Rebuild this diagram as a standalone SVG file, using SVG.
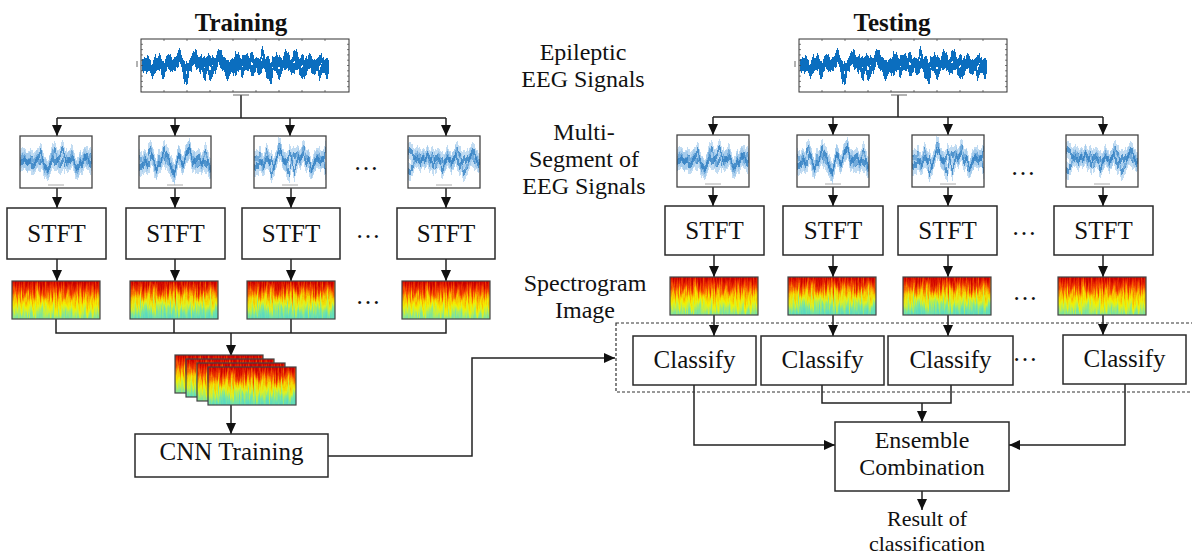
<svg xmlns="http://www.w3.org/2000/svg" xmlns:xlink="http://www.w3.org/1999/xlink" width="1192" height="556" viewBox="0 0 1192 556">
<style>
  text { font-family: "Liberation Serif", "Times New Roman", serif; font-size: 25px; fill: #111; text-anchor: middle; }
  .title { font-weight: bold; }
  .ml { font-size: 24px; }
  .box { fill: #fff; stroke: #2a2a2a; stroke-width: 1.5; }
  .ln { fill: none; stroke: #222; stroke-width: 1.5; }
  .arr { fill: none; stroke: #222; stroke-width: 1.5; marker-end: url(#ah); }
  .dash { fill: none; stroke: #333; stroke-width: 1.2; stroke-dasharray: 3 2; }
</style>
<defs>
  <marker id="ah" viewBox="0 0 10 10" refX="10" refY="5" markerWidth="11" markerHeight="10" markerUnits="userSpaceOnUse" orient="auto" preserveAspectRatio="none">
    <path d="M0 0 L10 5 L0 10 Z" fill="#111"/>
  </marker>
  <linearGradient id="gA" gradientUnits="userSpaceOnUse" x1="0" y1="-15" x2="0" y2="53">
    <stop offset="0" stop-color="#a80000"/>
    <stop offset="0.22" stop-color="#c80000"/>
    <stop offset="0.265" stop-color="#d81000"/>
    <stop offset="0.353" stop-color="#f03800"/>
    <stop offset="0.426" stop-color="#f87800"/>
    <stop offset="0.50" stop-color="#f8c400"/>
    <stop offset="0.574" stop-color="#f2f000"/>
    <stop offset="0.647" stop-color="#d2f030"/>
    <stop offset="0.72" stop-color="#a0ea70"/>
    <stop offset="0.78" stop-color="#80e498"/>
    <stop offset="1" stop-color="#60d8c0"/>
  </linearGradient>
  <linearGradient id="gB" gradientUnits="userSpaceOnUse" x1="0" y1="-15" x2="0" y2="53">
    <stop offset="0" stop-color="#a80000"/>
    <stop offset="0.22" stop-color="#cc0000"/>
    <stop offset="0.265" stop-color="#dc1800"/>
    <stop offset="0.35" stop-color="#f04800"/>
    <stop offset="0.42" stop-color="#f89000"/>
    <stop offset="0.49" stop-color="#f4d800"/>
    <stop offset="0.56" stop-color="#e0f020"/>
    <stop offset="0.63" stop-color="#a8ec60"/>
    <stop offset="0.70" stop-color="#78e4a0"/>
    <stop offset="0.78" stop-color="#60dcbc"/>
    <stop offset="1" stop-color="#50d0c8"/>
  </linearGradient>
  <filter id="fp1" filterUnits="userSpaceOnUse" x="0" y="0" width="88" height="38" color-interpolation-filters="sRGB">
    <feTurbulence type="fractalNoise" baseFrequency="0.6 0.05" numOctaves="3" seed="4" result="n"/>
    <feColorMatrix in="n" type="matrix" values="0 0 0 0 0.5  0 1 0 0 0  0 0 0 0 0  0 0 0 0 1" result="m"/>
    <feDisplacementMap in="SourceGraphic" in2="m" scale="26" xChannelSelector="R" yChannelSelector="G"/>
  </filter>
  <filter id="fp2" filterUnits="userSpaceOnUse" x="0" y="0" width="88" height="38" color-interpolation-filters="sRGB">
    <feTurbulence type="fractalNoise" baseFrequency="0.6 0.05" numOctaves="3" seed="9" result="n"/>
    <feColorMatrix in="n" type="matrix" values="0 0 0 0 0.5  0 1 0 0 0  0 0 0 0 0  0 0 0 0 1" result="m"/>
    <feDisplacementMap in="SourceGraphic" in2="m" scale="26" xChannelSelector="R" yChannelSelector="G"/>
  </filter>
  <filter id="fe" filterUnits="userSpaceOnUse" x="0" y="1" width="208" height="51" color-interpolation-filters="sRGB">
    <feTurbulence type="fractalNoise" baseFrequency="0.12 0.002" numOctaves="4" seed="21" result="n"/>
    <feColorMatrix in="n" type="matrix" values="0 0 0 0 0.5  0 1 0 0 0  0 0 1 0 0  0 0 0 0 1" result="m"/>
    <feDisplacementMap in="SourceGraphic" in2="m" scale="50" xChannelSelector="R" yChannelSelector="G" result="a"/>
    <feDisplacementMap in="SourceGraphic" in2="m" scale="42" xChannelSelector="R" yChannelSelector="B" result="b"/>
    <feMerge><feMergeNode in="a"/><feMergeNode in="b"/></feMerge>
  </filter>
  <filter id="fs1" filterUnits="userSpaceOnUse" x="0" y="0" width="72" height="52" color-interpolation-filters="sRGB">
    <feTurbulence type="fractalNoise" baseFrequency="0.13 0.002" numOctaves="4" seed="31" result="n"/>
    <feColorMatrix in="n" type="matrix" values="0 0 0 0 0.5  0 1 0 0 0  0 0 1 0 0  0 0 0 0 1" result="m"/>
    <feDisplacementMap in="SourceGraphic" in2="m" scale="50" xChannelSelector="R" yChannelSelector="G" result="a"/>
    <feDisplacementMap in="SourceGraphic" in2="m" scale="44" xChannelSelector="R" yChannelSelector="B" result="b"/>
    <feMerge><feMergeNode in="a"/><feMergeNode in="b"/></feMerge>
  </filter>
  <filter id="fs2" filterUnits="userSpaceOnUse" x="0" y="0" width="72" height="52" color-interpolation-filters="sRGB">
    <feTurbulence type="fractalNoise" baseFrequency="0.13 0.002" numOctaves="4" seed="47" result="n"/>
    <feColorMatrix in="n" type="matrix" values="0 0 0 0 0.5  0 1 0 0 0  0 0 1 0 0  0 0 0 0 1" result="m"/>
    <feDisplacementMap in="SourceGraphic" in2="m" scale="50" xChannelSelector="R" yChannelSelector="G" result="a"/>
    <feDisplacementMap in="SourceGraphic" in2="m" scale="44" xChannelSelector="R" yChannelSelector="B" result="b"/>
    <feMerge><feMergeNode in="a"/><feMergeNode in="b"/></feMerge>
  </filter>
  <filter id="fs3" filterUnits="userSpaceOnUse" x="0" y="0" width="72" height="52" color-interpolation-filters="sRGB">
    <feTurbulence type="fractalNoise" baseFrequency="0.13 0.002" numOctaves="4" seed="63" result="n"/>
    <feColorMatrix in="n" type="matrix" values="0 0 0 0 0.5  0 1 0 0 0  0 0 1 0 0  0 0 0 0 1" result="m"/>
    <feDisplacementMap in="SourceGraphic" in2="m" scale="54" xChannelSelector="R" yChannelSelector="G" result="a"/>
    <feDisplacementMap in="SourceGraphic" in2="m" scale="46" xChannelSelector="R" yChannelSelector="B" result="b"/>
    <feMerge><feMergeNode in="a"/><feMergeNode in="b"/></feMerge>
  </filter>
  <filter id="fs4" filterUnits="userSpaceOnUse" x="0" y="0" width="72" height="52" color-interpolation-filters="sRGB">
    <feTurbulence type="fractalNoise" baseFrequency="0.13 0.002" numOctaves="4" seed="77" result="n"/>
    <feColorMatrix in="n" type="matrix" values="0 0 0 0 0.5  0 1 0 0 0  0 0 1 0 0  0 0 0 0 1" result="m"/>
    <feDisplacementMap in="SourceGraphic" in2="m" scale="50" xChannelSelector="R" yChannelSelector="G" result="a"/>
    <feDisplacementMap in="SourceGraphic" in2="m" scale="44" xChannelSelector="R" yChannelSelector="B" result="b"/>
    <feMerge><feMergeNode in="a"/><feMergeNode in="b"/></feMerge>
  </filter>

  <g id="eeg">
    <rect x="0" y="0" width="208" height="53" fill="#fff"/>
    <g filter="url(#fe)">
      <rect x="1" y="20" width="187" height="11" fill="#0b6ebf"/>
    </g>
    <rect x="0" y="0" width="208" height="53" fill="none" stroke="#333" stroke-width="1"/>
    <path d="M23 0v2M46 0v2M69 0v2M92 0v2M115 0v2M138 0v2M161 0v2M184 0v2M23 53v-2M46 53v-2M69 53v-2M92 53v-2M115 53v-2M138 53v-2M161 53v-2M184 53v-2M0 5.3h2M0 10.6h2M0 15.9h2M0 21.2h2M0 26.5h2M0 31.8h2M0 37.1h2M0 42.4h2M0 47.7h2M208 5.3h-2M208 10.6h-2M208 15.9h-2M208 21.2h-2M208 26.5h-2M208 31.8h-2M208 37.1h-2M208 42.4h-2M208 47.7h-2" stroke="#444" stroke-width="0.7" fill="none"/>
    <path d="M92 56h16M-4 22v6" stroke="#666" stroke-width="1" fill="none"/>
  </g>

  <g id="seg1">
    <rect width="72" height="52" fill="#fff"/>
    <g filter="url(#fs1)">
      <rect x="0" y="15" width="72" height="18" fill="#8fc0e8" fill-opacity="0.55"/>
      <rect x="0" y="21" width="72" height="6" fill="#2b7cc0" fill-opacity="0.75"/>
    </g>
    <rect width="72" height="52" fill="none" stroke="#444" stroke-width="1.3"/>
    <line x1="28" y1="49" x2="44" y2="49" stroke="#aaa" stroke-width="1"/>
  </g>
  <g id="seg2">
    <rect width="72" height="52" fill="#fff"/>
    <g filter="url(#fs2)">
      <rect x="0" y="15" width="72" height="18" fill="#8fc0e8" fill-opacity="0.55"/>
      <rect x="0" y="21" width="72" height="6" fill="#2b7cc0" fill-opacity="0.75"/>
    </g>
    <rect width="72" height="52" fill="none" stroke="#444" stroke-width="1.3"/>
    <line x1="28" y1="49" x2="44" y2="49" stroke="#aaa" stroke-width="1"/>
  </g>
  <g id="seg3">
    <rect width="72" height="52" fill="#fff"/>
    <g filter="url(#fs3)">
      <rect x="0" y="15" width="72" height="18" fill="#8fc0e8" fill-opacity="0.55"/>
      <rect x="0" y="21" width="72" height="6" fill="#2b7cc0" fill-opacity="0.75"/>
    </g>
    <rect width="72" height="52" fill="none" stroke="#444" stroke-width="1.3"/>
    <line x1="28" y1="49" x2="44" y2="49" stroke="#aaa" stroke-width="1"/>
  </g>
  <g id="seg4">
    <rect width="72" height="52" fill="#fff"/>
    <g filter="url(#fs4)">
      <rect x="0" y="15" width="72" height="18" fill="#8fc0e8" fill-opacity="0.55"/>
      <rect x="0" y="21" width="72" height="6" fill="#2b7cc0" fill-opacity="0.75"/>
    </g>
    <rect width="72" height="52" fill="none" stroke="#444" stroke-width="1.3"/>
    <line x1="28" y1="49" x2="44" y2="49" stroke="#aaa" stroke-width="1"/>
  </g>

  <g id="spA">
    <g filter="url(#fp1)"><rect x="-2" y="-15" width="92" height="68" fill="url(#gA)"/></g>
    <rect width="88" height="38" fill="none" stroke="#444" stroke-width="1.2"/>
  </g>
  <g id="spB">
    <g filter="url(#fp2)"><rect x="-2" y="-15" width="92" height="68" fill="url(#gB)"/></g>
    <rect width="88" height="38" fill="none" stroke="#444" stroke-width="1.2"/>
  </g>
</defs>

<rect width="1192" height="556" fill="#fff"/>

<!-- Connectors -->
<g id="connectors">
  <!-- training -->
  <path class="ln" d="M241 95V118M57 118H446"/>
  <path class="arr" d="M57 118V136"/>
  <path class="arr" d="M175 118V136"/>
  <path class="arr" d="M290 118V136"/>
  <path class="arr" d="M446 118V136"/>
  <path class="arr" d="M57 188V208"/>
  <path class="arr" d="M175 188V208"/>
  <path class="arr" d="M291 188V208"/>
  <path class="arr" d="M446 188V208"/>
  <path class="arr" d="M57 259V281"/>
  <path class="arr" d="M175 259V281"/>
  <path class="arr" d="M291 259V281"/>
  <path class="arr" d="M446 259V281"/>
  <path class="ln" d="M56 319V333H446V319M174 319V333M291 319V333"/>
  <path class="arr" d="M231 333V356"/>
  <path class="arr" d="M231 404V434"/>
  <path class="arr" d="M328 456H472V358H615"/>
  <!-- testing -->
  <path class="ln" d="M898 95V117M713 117H1103"/>
  <path class="arr" d="M713 117V135"/>
  <path class="arr" d="M833 117V135"/>
  <path class="arr" d="M948 117V135"/>
  <path class="arr" d="M1103 117V135"/>
  <path class="arr" d="M713 186V206"/>
  <path class="arr" d="M833 186V206"/>
  <path class="arr" d="M948 186V206"/>
  <path class="arr" d="M1103 186V206"/>
  <path class="arr" d="M714 255V277"/>
  <path class="arr" d="M833 255V277"/>
  <path class="arr" d="M948 255V277"/>
  <path class="arr" d="M1103 255V277"/>
  <path class="arr" d="M714 314V336"/>
  <path class="arr" d="M833 314V336"/>
  <path class="arr" d="M948 314V336"/>
  <path class="arr" d="M1103 314V335"/>
  <path class="arr" d="M694 385V445H835"/>
  <path class="ln" d="M822 385V403H951V385"/>
  <path class="arr" d="M922 403V422"/>
  <path class="arr" d="M1125 384V445H1009"/>
  <path class="arr" d="M922 491V510"/>
</g>

<!-- Training side -->
<g id="training-title"><text class="title" x="241" y="31">Training</text></g>
<g id="train-eeg"><use href="#eeg" x="141" y="39"/></g>
<g id="train-seg-1"><use href="#seg1" x="20" y="136"/></g>
<g id="train-seg-2"><use href="#seg2" x="139" y="136"/></g>
<g id="train-seg-3"><use href="#seg3" x="254" y="136"/></g>
<g id="train-seg-4"><use href="#seg4" x="408" y="136"/></g>
<g id="train-seg-dots"><text x="366" y="170">…</text></g>
<g id="train-stft-1"><rect class="box" x="7" y="208" width="99" height="51"/><text x="56.5" y="242">STFT</text></g>
<g id="train-stft-2"><rect class="box" x="126" y="208" width="99" height="51"/><text x="175.5" y="242">STFT</text></g>
<g id="train-stft-3"><rect class="box" x="242" y="208" width="98" height="51"/><text x="291" y="242">STFT</text></g>
<g id="train-stft-4"><rect class="box" x="397" y="208" width="98" height="51"/><text x="446" y="242">STFT</text></g>
<g id="train-stft-dots"><text x="368" y="238">…</text></g>
<g id="train-spec-1"><use href="#spA" x="12" y="281"/></g>
<g id="train-spec-2"><use href="#spB" x="130" y="281"/></g>
<g id="train-spec-3"><use href="#spB" x="247" y="281"/></g>
<g id="train-spec-4"><use href="#spA" x="402" y="281"/></g>
<g id="train-spec-dots"><text x="368" y="304">…</text></g>
<g id="spec-stack">
  <use href="#spA" x="175" y="355"/>
  <use href="#spB" x="186" y="359"/>
  <use href="#spA" x="197" y="363"/>
  <use href="#spB" x="208" y="367"/>
</g>
<g id="cnn-training"><rect class="box" x="135" y="434" width="193" height="43"/><text x="231.5" y="460">CNN Training</text></g>

<!-- Middle labels -->
<g id="label-eeg"><text class="ml" x="583" y="60">Epileptic<tspan x="583" dy="27">EEG Signals</tspan></text></g>
<g id="label-seg"><text class="ml" x="584" y="140">Multi-<tspan x="584" dy="27">Segment of</tspan><tspan x="584" dy="27">EEG Signals</tspan></text></g>
<g id="label-spec"><text class="ml" x="585" y="291">Spectrogram<tspan x="585" dy="27">Image</tspan></text></g>

<!-- Testing side -->
<g id="testing-title"><text class="title" x="892" y="31">Testing</text></g>
<g id="test-eeg"><use href="#eeg" x="799" y="39"/></g>
<g id="test-seg-1"><use href="#seg1" x="677" y="135"/></g>
<g id="test-seg-2"><use href="#seg2" x="797" y="135"/></g>
<g id="test-seg-3"><use href="#seg3" x="912" y="135"/></g>
<g id="test-seg-4"><use href="#seg4" x="1066" y="135"/></g>
<g id="test-seg-dots"><text x="1023" y="175">…</text></g>
<g id="test-stft-1"><rect class="box" x="665" y="206" width="99" height="49"/><text x="714.5" y="239">STFT</text></g>
<g id="test-stft-2"><rect class="box" x="783" y="206" width="100" height="49"/><text x="833" y="239">STFT</text></g>
<g id="test-stft-3"><rect class="box" x="898" y="206" width="99" height="49"/><text x="947.5" y="239">STFT</text></g>
<g id="test-stft-4"><rect class="box" x="1054" y="206" width="99" height="49"/><text x="1103.5" y="239">STFT</text></g>
<g id="test-stft-dots"><text x="1024" y="235">…</text></g>
<g id="test-spec-1"><use href="#spA" x="670" y="277"/></g>
<g id="test-spec-2"><use href="#spB" x="788" y="277"/></g>
<g id="test-spec-3"><use href="#spB" x="903" y="277"/></g>
<g id="test-spec-4"><use href="#spA" x="1058" y="277"/></g>
<g id="test-spec-dots"><text x="1025" y="300">…</text></g>
<g id="classify-group"><rect class="dash" x="616" y="323" width="590" height="69"/></g>
<g id="classify-1"><rect class="box" x="633" y="336" width="123" height="49"/><text x="694.5" y="368">Classify</text></g>
<g id="classify-2"><rect class="box" x="761" y="336" width="123" height="49"/><text x="822.5" y="368">Classify</text></g>
<g id="classify-3"><rect class="box" x="888" y="336" width="125" height="49"/><text x="950.5" y="368">Classify</text></g>
<g id="classify-4"><rect class="box" x="1063" y="335" width="123" height="49"/><text x="1124.5" y="367">Classify</text></g>
<g id="classify-dots"><text x="1025" y="361">…</text></g>
<g id="ensemble"><rect class="box" x="835" y="422" width="174" height="69"/><text class="ml" x="922" y="448">Ensemble<tspan x="922" dy="27">Combination</tspan></text></g>
<g id="result"><text x="927" y="526" style="font-size:22px">Result of<tspan x="927" dy="25">classification</tspan></text></g>
</svg>
